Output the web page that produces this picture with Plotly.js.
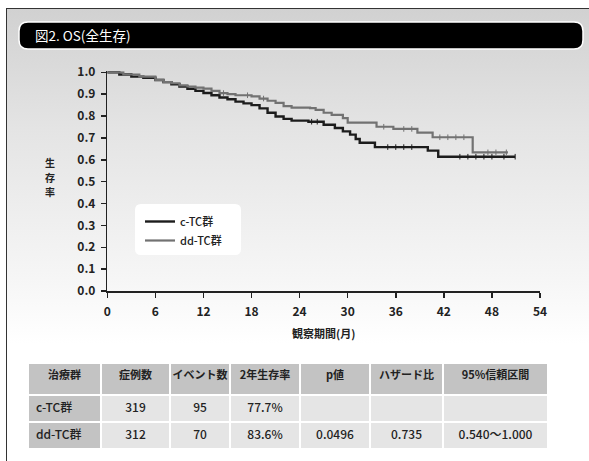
<!DOCTYPE html>
<html><head><meta charset="utf-8">
<script src="https://cdn.plot.ly/plotly-3.0.1.min.js"></script>
<style>
html,body{margin:0;padding:0;background:#fff;}
#wrap{position:relative;width:589px;height:461px;overflow:hidden;background:#fff;}
#bg{position:absolute;left:6px;top:8px;right:0;bottom:0;border-left:1.5px solid #333;border-top:1.5px solid #333;background:linear-gradient(to bottom,#d1d1d1 0px,#e4e4e4 120px,#f6f6f6 270px,#ffffff 335px);}
#chart{position:absolute;left:0;top:0;width:589px;height:461px;}
</style></head><body>
<div id="wrap"><div id="bg"></div><div id="chart"></div></div>
<script>
// ---- data ----
const ctcMonths = [0,1.5,3,4.5,6,7,8,9,10,11,12,13,14,15,16,17,18,19,20,21,22,23,25.1,27,28.4,29.4,30.3,31,31.5,33.4,40,41.3,50.9];
const ctcSurv   = [1.0,0.99,0.98,0.975,0.965,0.955,0.945,0.935,0.925,0.915,0.905,0.895,0.885,0.877,0.866,0.858,0.85,0.835,0.815,0.798,0.787,0.779,0.774,0.76,0.745,0.73,0.715,0.695,0.678,0.658,0.642,0.614,0.614];
const ddtcMonths = [0,2,4,6,7,8,9,10,11,12,13,14,15,16,18,19,20,21,22,23,25.3,26,27,28,29.4,30,33.6,35.7,38.7,40.6,45.6,50];
const ddtcSurv   = [1.0,0.99,0.98,0.965,0.955,0.95,0.94,0.935,0.93,0.925,0.915,0.905,0.9,0.895,0.89,0.88,0.87,0.86,0.845,0.838,0.836,0.828,0.815,0.805,0.79,0.77,0.751,0.741,0.724,0.703,0.634,0.634];
const ctcCensorMonths = [25.5,26.2,35,36,37,38,44,45,46,47,48,49.5,50.9];
const ctcCensorSurv   = [0.774,0.774,0.658,0.658,0.658,0.658,0.614,0.614,0.614,0.614,0.614,0.614,0.614];
const ddtcCensorMonths = [14.5,17.5,19.5,34.5,37,38,41.5,42.5,43.5,44.5,47.5,48.5,49.8];
const ddtcCensorSurv   = [0.905,0.895,0.88,0.751,0.741,0.741,0.703,0.703,0.703,0.703,0.634,0.634,0.634];
const seriesNames = ['c-TC群','dd-TC群'];
const xTicks = [0,6,12,18,24,30,36,42,48,54];
const yTicks = [0,0.1,0.2,0.3,0.4,0.5,0.6,0.7,0.8,0.9,1.0];
const yTitleChars = ['生','存','率'];
const tableHeader = ['治療群','症例数','イベント数','2年生存率','p値','ハザード比','95%信頼区間'];
const tableGroup  = ['c-TC群','dd-TC群'];
const tableCases  = ['319','312'];
const tableEvents = ['95','70'];
const tableRate2y = ['77.7%','83.6%'];
const tableP      = ['','0.0496'];
const tableHR     = ['','0.735'];
const tableCI     = ['','0.540～1.000'];

// ---- layout helpers (pixel -> paper) ----
const W = 589, H = 461;
const fx = p => p / W;
const fy = p => 1 - p / H;
function roundRect(x0, y0, x1, y1, r) {
  const X0 = fx(x0), X1 = fx(x1), Y0 = fy(y0), Y1 = fy(y1);
  const rx = r / W, ry = r / H;
  return `M${X0+rx},${Y0} L${X1-rx},${Y0} Q${X1},${Y0} ${X1},${Y0-ry} L${X1},${Y1+ry} Q${X1},${Y1} ${X1-rx},${Y1} L${X0+rx},${Y1} Q${X0},${Y1} ${X0},${Y1+ry} L${X0},${Y0-ry} Q${X0},${Y0} ${X0+rx},${Y0} Z`;
}
const FONT = '"Noto Sans CJK JP", "Noto Sans", sans-serif';
const BLACK = '#1c1c1c', GREY = '#727272';

const traces = [
  {type:'scatter', mode:'lines', x: ctcMonths, y: ctcSurv, name: seriesNames[0],
   line:{shape:'hv', color:BLACK, width:2.4}},
  {type:'scatter', mode:'lines', x: ddtcMonths, y: ddtcSurv, name: seriesNames[1],
   line:{shape:'hv', color:GREY, width:2.2}},
  {type:'scatter', mode:'markers', x: ctcCensorMonths, y: ctcCensorSurv, showlegend:false, hoverinfo:'skip',
   marker:{symbol:'line-ns-open', size:4, color:BLACK, line:{color:BLACK, width:1}}},
  {type:'scatter', mode:'markers', x: ddtcCensorMonths, y: ddtcCensorSurv, showlegend:false, hoverinfo:'skip',
   marker:{symbol:'line-ns-open', size:4, color:GREY, line:{color:GREY, width:1}}},
  {type:'table',
   domain:{x:[fx(28), fx(548)], y:[fy(456), fy(363)]},
   columnwidth:[73,69,60,70,70,73,105],
   header:{values: tableHeader.map(h => [h]), height:32,
     fill:{color:'#c3c3c3'}, line:{color:'#ffffff', width:2},
     align:'center', font:{family:FONT, size:11, color:'#222', weight:600}},
   cells:{values:[tableGroup, tableCases, tableEvents, tableRate2y, tableP, tableHR, tableCI], height:27,
     fill:{color:['#c3c3c3','#e5e5e5','#e5e5e5','#e5e5e5','#e5e5e5','#e5e5e5','#e5e5e5']},
     line:{color:'#ffffff', width:2},
     align:['left','center','center','center','center','center','center'],
     font:{family:FONT, size:12, color:'#222', weight:500}}
  }
];

const layout = {
  width: W, height: H,
  margin:{l:0, r:0, t:0, b:0},
  paper_bgcolor:'rgba(0,0,0,0)', plot_bgcolor:'rgba(0,0,0,0)',
  font:{family:FONT, color:'#222'},
  showlegend:true,
  legend:{x:fx(140), y:fy(207), xanchor:'left', yanchor:'top', bgcolor:'rgba(0,0,0,0)',
    font:{family:FONT, size:11, color:'#222', weight:500}, itemwidth:30, tracegroupgap:0},
  xaxis:{domain:[fx(107.3), fx(540)], range:[0,54], tickvals:xTicks, ticktext:xTicks.map(String),
    showgrid:false, zeroline:false, showline:true, linecolor:'#222', linewidth:1.5,
    ticks:'outside', ticklen:5, tickwidth:1.5, tickcolor:'#222', ticklabelstandoff:4,
    tickfont:{family:FONT, size:12, color:'#222', weight:600}, automargin:false,
    title:{text:'観察期間(月)', font:{family:FONT, size:11, color:'#222', weight:600}, standoff:12}},
  yaxis:{domain:[fy(291), fy(71.2)], range:[0,1.005], tickvals:yTicks, ticktext:yTicks.map(v=>v.toFixed(1)),
    showgrid:false, zeroline:false, showline:true, linecolor:'#222', linewidth:1.5,
    ticks:'outside', ticklen:5, tickwidth:1.5, tickcolor:'#222', ticklabelstandoff:3,
    tickfont:{family:FONT, size:12, color:'#222', weight:600}, automargin:false},
  shapes:[
    {type:'path', xref:'paper', yref:'paper', path: roundRect(19,22,583,49,9),
     fillcolor:'#000', line:{color:'#ffffff', width:1.5}, layer:'below'},
    {type:'path', xref:'paper', yref:'paper', path: roundRect(135,204,241,255,6),
     fillcolor:'#ffffff', line:{width:0}, layer:'below'}
  ],
  annotations:[
    {xref:'paper', yref:'paper', x:fx(33), y:fy(35.5), xanchor:'left', yanchor:'middle', showarrow:false,
     text:'図2. OS(全生存)', font:{family:FONT, size:13.5, color:'#ffffff'}}
  ].concat(yTitleChars.map((c, i) => ({
     xref:'paper', yref:'paper', x:fx(50), y:fy(163 + i*14.5), xanchor:'center', yanchor:'middle', showarrow:false,
     borderpad:0, text:c, font:{family:FONT, size:10, color:'#222', weight:700}})))
};

Plotly.newPlot('chart', traces, layout, {displayModeBar:false, staticPlot:true});
</script>
</body></html>
